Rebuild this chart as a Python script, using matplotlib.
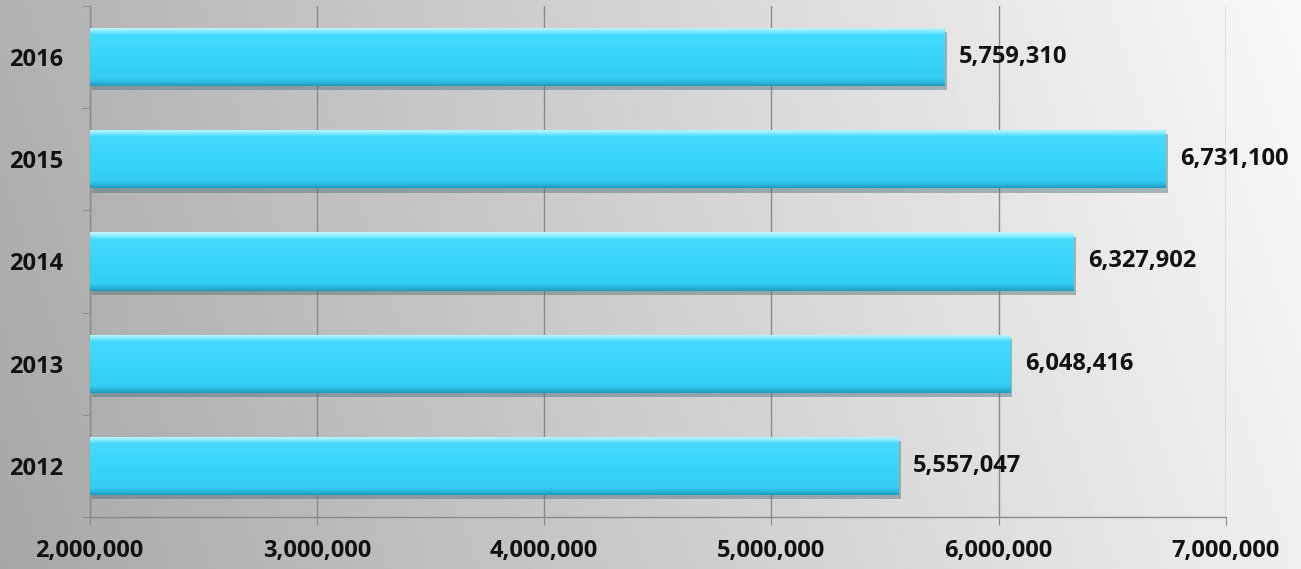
import numpy as np
import matplotlib
matplotlib.use("Agg")
import matplotlib.pyplot as plt
from matplotlib import patheffects
from matplotlib.colors import LinearSegmentedColormap
from matplotlib.ticker import FuncFormatter, MultipleLocator

years = ["2012", "2013", "2014", "2015", "2016"]
visitors = [5557047, 6048416, 6327902, 6731100, 5759310]
x_ticks = [2000000, 3000000, 4000000, 5000000, 6000000, 7000000]

plt.rcParams['font.family'] = ['Open Sans', 'DejaVu Sans']
plt.rcParams['font.weight'] = 'bold'

fig = plt.figure(figsize=(13.01, 5.69), dpi=100)

# gray gradient behind everything
bg = fig.add_axes([0, 0, 1, 1], zorder=-10)
gx, gy = np.meshgrid(np.linspace(0, 1, 400), np.linspace(0, 1, 200))
shade = 0.655 + 0.28 * gx + 0.04 * gy
bg.imshow(shade, cmap='gray', vmin=0, vmax=1, aspect='auto', origin='lower',
          extent=[0, 1, 0, 1])
bg.axis('off')

ax = fig.add_axes([0.0688, 0.0914, 0.8735, 0.8981])
ax.set_facecolor('none')

base = x_ticks[0]
ypos = np.arange(len(years))
widths = [v - base for v in visitors]
bars = ax.barh(ypos, widths, left=base, height=0.57, color='#38d6fb',
               edgecolor='none', zorder=3)

# bevel look: vertical gradient clipped to each bar
bevel = LinearSegmentedColormap.from_list('bevel', [
    (0.0, '#1f9cbd'), (0.05, '#2ab6da'), (0.12, '#34cdf3'),
    (0.5, '#38d6fb'), (0.88, '#45dafd'), (0.94, '#8cecfe'), (1.0, '#c4f6ff')])
grad = np.linspace(0, 1, 100).reshape(-1, 1)
for b in bars:
    b.set_path_effects([patheffects.SimplePatchShadow(offset=(2, -3),
                                                      shadow_rgbFace='#4a6f7a',
                                                      alpha=0.45),
                        patheffects.Normal()])
    x0, y0 = b.get_x(), b.get_y()
    im = ax.imshow(grad, cmap=bevel, aspect='auto', origin='lower',
                   extent=[x0, x0 + b.get_width(), y0, y0 + b.get_height()],
                   zorder=4)
    im.set_clip_path(b)

for y, v in zip(ypos, visitors):
    ax.annotate(f"{v:,}", (v, y), xytext=(11, 0), textcoords='offset points',
                ha='left', va='center', fontsize=17, fontweight='bold',
                color='#111111', zorder=6)

ax.set_xlim(x_ticks[0], x_ticks[-1])
ax.set_ylim(-0.5, len(years) - 0.5)
ax.set_xticks(x_ticks)
ax.xaxis.set_major_formatter(FuncFormatter(lambda v, p: f"{int(v):,}"))
ax.set_yticks(ypos)
ax.set_yticklabels(years)
ax.yaxis.set_minor_locator(MultipleLocator(1, offset=0.5))

ax.grid(axis='x', color='#8a8a8a', linewidth=1, zorder=1)
ax.set_axisbelow(True)
for s in ['top', 'right']:
    ax.spines[s].set_visible(False)
for s in ['left', 'bottom']:
    ax.spines[s].set_color('#8a8a8a')
    ax.spines[s].set_linewidth(1)

ax.tick_params(axis='x', length=6, color='#8a8a8a', pad=10, labelsize=17,
               labelcolor='#111111')
ax.tick_params(axis='y', which='major', length=0, pad=19, labelsize=17,
               labelcolor='#111111')
ax.tick_params(axis='y', which='minor', length=6, color='#8a8a8a')
for lab in ax.get_xticklabels() + ax.get_yticklabels():
    lab.set_fontweight('bold')

fig.savefig('out.png', dpi=100)
